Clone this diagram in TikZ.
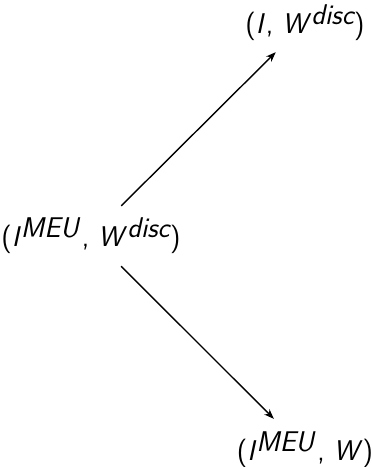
\documentclass[tikz,border=0pt]{standalone}
\usetikzlibrary{arrows.meta}
\begin{document}
\begin{tikzpicture}[x=1pt,y=1pt,
  lbl/.style={font=\sffamily\fontsize{28.5}{32}\selectfont, inner xsep=4pt, inner ysep=12pt},
  arr/.style={-{Stealth[length=10pt,width=7.5pt]}, line width=1.4pt}]
\useasboundingbox (0,0) rectangle (373,467);
\node[lbl] (l) at (91,231) {(\textit{I}$^{\textit{MEU\/}}$\kern1pt, \textit{W}$^{\textit{disc}}$)};
\node[lbl, inner ysep=11pt] (t) at (305,444) {(\textit{I\/}\kern1pt, \textit{W}$^{\textit{disc}}$)};
\node[lbl, inner ysep=13pt] (b) at (305,17) {(\textit{I}$^{\textit{MEU\/}}$\kern1pt, \textit{W})};
\draw[arr] (l) -- (t);
\draw[arr] (l) -- (b);
\end{tikzpicture}
\end{document}
